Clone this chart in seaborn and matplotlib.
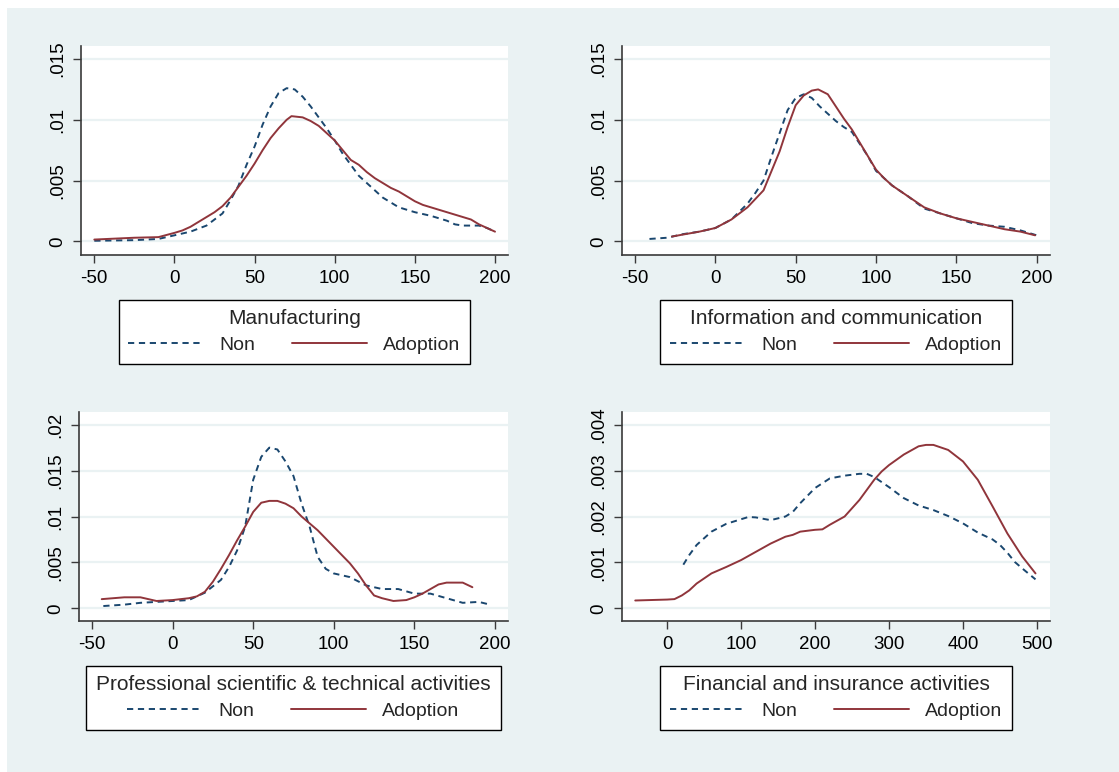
import matplotlib
matplotlib.use("Agg")
import matplotlib.pyplot as plt
import seaborn as sns
import pandas as pd
from matplotlib.patches import Rectangle

sns.set_theme(style="white")
plt.rcParams['font.family'] = ['Liberation Sans', 'DejaVu Sans']

NON_COLOR = "#1A476F"
ADOPT_COLOR = "#90353B"
BG = "#EAF2F3"

# ---------------- data ----------------
titles = ["Manufacturing", "Information and communication",
          "Professional scientific & technical activities",
          "Financial and insurance activities"]
series_labels = ["Non", "Adoption"]

manu_non_x = [-50, -25, -10, 0, 10, 20, 30, 35, 40, 45, 50, 55, 60, 65, 70, 75, 80, 85, 90, 95,
              100, 105, 110, 115, 120, 125, 130, 135, 140, 145, 150, 160, 170, 175, 180, 190, 195, 200]
manu_non_y = [0.00005, 0.0001, 0.0002, 0.0005, 0.0008, 0.0013, 0.0023, 0.0034, 0.0046, 0.0063,
              0.0078, 0.0096, 0.0111, 0.0122, 0.0126, 0.0125, 0.0119, 0.0111, 0.0102, 0.0093,
              0.0083, 0.0072, 0.0063, 0.0054, 0.0048, 0.0042, 0.0036, 0.0032, 0.0028, 0.0026,
              0.0024, 0.0021, 0.0017, 0.0014, 0.0013, 0.0013, 0.0011, 0.0008]
manu_ado_x = [-50, -25, -10, 0, 5, 10, 15, 20, 25, 30, 35, 40, 45, 50, 55, 60, 65, 70, 73, 80,
              85, 90, 95, 100, 105, 110, 115, 120, 125, 130, 135, 140, 145, 150, 155, 160, 165,
              170, 175, 180, 185, 190, 195, 200]
manu_ado_y = [0.00015, 0.0003, 0.00035, 0.0007, 0.0009, 0.0012, 0.0016, 0.0020, 0.0024, 0.0029,
              0.0036, 0.0045, 0.0054, 0.0064, 0.0075, 0.0085, 0.0093, 0.0100, 0.0103, 0.0102,
              0.0099, 0.0095, 0.0089, 0.0083, 0.0075, 0.0067, 0.0063, 0.0057, 0.0052, 0.0048,
              0.0044, 0.0041, 0.0037, 0.0033, 0.0030, 0.0028, 0.0026, 0.0024, 0.0022, 0.0020,
              0.0018, 0.0014, 0.0011, 0.0008]

info_non_x = [-41, -30, -20, -10, 0, 10, 20, 25, 30, 35, 40, 45, 50, 55, 60, 65, 70, 75, 80, 85,
              90, 95, 100, 110, 120, 130, 140, 150, 160, 170, 180, 190, 200]
info_non_y = [0.0002, 0.0003, 0.0006, 0.0008, 0.0011, 0.0018, 0.0031, 0.0040, 0.0050, 0.0070,
              0.0089, 0.0108, 0.0118, 0.0121, 0.0118, 0.0111, 0.0105, 0.0099, 0.0094, 0.0090,
              0.0080, 0.0070, 0.0058, 0.0046, 0.0037, 0.0027, 0.0023, 0.0019, 0.0015, 0.0013,
              0.0012, 0.0009, 0.0005]
info_ado_x = [-27, -10, 0, 10, 20, 30, 35, 40, 45, 50, 55, 60, 64, 70, 75, 80, 85, 90, 95,
              100, 105, 110, 120, 130, 140, 150, 160, 170, 180, 190, 199]
info_ado_y = [0.0004, 0.0008, 0.0011, 0.0018, 0.0028, 0.0042, 0.0058, 0.0074, 0.0094, 0.0112,
              0.0120, 0.0124, 0.0125, 0.0121, 0.0111, 0.0101, 0.0092, 0.0081, 0.0070,
              0.0059, 0.0052, 0.0046, 0.0037, 0.0028, 0.0023, 0.0019, 0.0016, 0.0013, 0.0010,
              0.0008, 0.0005]

prof_non_x = [-43, -30, -20, -10, 0, 10, 20, 30, 35, 40, 45, 50, 55, 60, 65, 70, 75, 80, 85,
              90, 95, 100, 110, 120, 130, 140, 150, 160, 170, 180, 190, 197]
prof_non_y = [0.00025, 0.0004, 0.0006, 0.0007, 0.0008, 0.0009, 0.0017, 0.0031, 0.0045, 0.0063,
              0.0089, 0.0140, 0.0165, 0.0175, 0.0173, 0.0160, 0.0144, 0.0114, 0.0089,
              0.0056, 0.0043, 0.0038, 0.0034, 0.0025, 0.0021, 0.0021, 0.0016, 0.0016, 0.0011,
              0.0006, 0.0007, 0.0004]
prof_ado_x = [-44, -30, -20, -10, 0, 10, 15, 20, 25, 30, 35, 40, 45, 50, 55, 60, 65, 70, 75,
              80, 90, 100, 110, 115, 120, 125, 130, 137, 145, 150, 155, 160, 165, 170, 180, 186]
prof_ado_y = [0.0010, 0.0012, 0.0012, 0.0008, 0.0009, 0.0011, 0.0013, 0.0018, 0.0029, 0.0043,
              0.0058, 0.0074, 0.0089, 0.0105, 0.0115, 0.0117, 0.0117, 0.0114, 0.0109,
              0.0100, 0.0085, 0.0067, 0.0049, 0.0038, 0.0025, 0.0014, 0.0011, 0.0008, 0.0009,
              0.0012, 0.0016, 0.0021, 0.0026, 0.0028, 0.0028, 0.0023]

fin_non_x = [22, 30, 40, 60, 80, 100, 110, 120, 140, 160, 170, 180, 200, 220, 240, 260, 270,
             280, 300, 320, 340, 360, 380, 400, 420, 440, 450, 460, 470, 480, 498]
fin_non_y = [0.00095, 0.00116, 0.00138, 0.00167, 0.00184, 0.00194, 0.00199, 0.00198, 0.00192,
             0.00200, 0.00210, 0.00229, 0.00262, 0.00283, 0.00289, 0.00293, 0.00293,
             0.00286, 0.00264, 0.00240, 0.00224, 0.00214, 0.00201, 0.00185, 0.00165,
             0.00150, 0.00138, 0.00121, 0.00101, 0.00087, 0.00063]
fin_ado_x = [-43, 0, 10, 20, 30, 40, 60, 80, 100, 120, 140, 160, 170, 180, 200, 210, 220, 240,
             260, 280, 290, 300, 320, 340, 350, 360, 380, 400, 420, 440, 460, 480, 498]
fin_ado_y = [0.00017, 0.00019, 0.00020, 0.00028, 0.00039, 0.00054, 0.00076, 0.00090, 0.00105,
             0.00123, 0.00141, 0.00156, 0.00160, 0.00167, 0.00171, 0.00172, 0.00182, 0.00200,
             0.00236, 0.00280, 0.00298, 0.00312, 0.00335, 0.00353, 0.00356, 0.00356,
             0.00345, 0.00320, 0.00280, 0.00222, 0.00163, 0.00113, 0.00076]

yticks_a = [0, 0.005, 0.01, 0.015]
ytick_labels_a = ["0", ".005", ".01", ".015"]
yticks_c = [0, 0.005, 0.01, 0.015, 0.02]
ytick_labels_c = ["0", ".005", ".01", ".015", ".02"]
yticks_d = [0, 0.001, 0.002, 0.003, 0.004]
ytick_labels_d = ["0", ".001", ".002", ".003", ".004"]
xticks_abc = [-50, 0, 50, 100, 150, 200]
xticks_d = [0, 100, 200, 300, 400, 500]

panels = [
    dict(title=titles[0], non=(manu_non_x, manu_non_y), ado=(manu_ado_x, manu_ado_y),
         yt=yticks_a, ytl=ytick_labels_a, xt=xticks_abc,
         xlim=(-58.3, 208.1), ylim=(-0.00112, 0.01607),
         pos=[81, 46, 508, 255]),
    dict(title=titles[1], non=(info_non_x, info_non_y), ado=(info_ado_x, info_ado_y),
         yt=yticks_a, ytl=ytick_labels_a, xt=xticks_abc,
         xlim=(-58.1, 208.3), ylim=(-0.00112, 0.01607),
         pos=[622, 46, 1050, 255]),
    dict(title=titles[2], non=(prof_non_x, prof_non_y), ado=(prof_ado_x, prof_ado_y),
         yt=yticks_c, ytl=ytick_labels_c, xt=xticks_abc,
         xlim=(-58.1, 208.1), ylim=(-0.00138, 0.02138),
         pos=[79, 412, 508, 621]),
    dict(title=titles[3], non=(fin_non_x, fin_non_y), ado=(fin_ado_x, fin_ado_y),
         yt=yticks_d, ytl=ytick_labels_d, xt=xticks_d,
         xlim=(-60.9, 517.6), ylim=(-0.000277, 0.004277),
         pos=[622, 412, 1050, 621]),
]

W, H = 1119, 772
fig = plt.figure(figsize=(W / 100, H / 100), dpi=100, facecolor="white")
fig.add_artist(Rectangle((7 / W, 0), 1, 1 - 8 / H, transform=fig.transFigure,
                         facecolor=BG, edgecolor="none", zorder=-10))

AX_COLOR = "#3a3a3a"
for p in panels:
    l, t, r, b = p["pos"]
    ax = fig.add_axes([l / W, 1 - b / H, (r - l) / W, (b - t) / H])
    ax.set_facecolor("white")
    dfn = pd.DataFrame({"x": p["non"][0], "y": p["non"][1]})
    dfa = pd.DataFrame({"x": p["ado"][0], "y": p["ado"][1]})
    sns.lineplot(data=dfn, x="x", y="y", ax=ax, color=NON_COLOR, lw=1.4,
                 label=series_labels[0], linestyle=(0, (3.2, 2.4)))
    sns.lineplot(data=dfa, x="x", y="y", ax=ax, color=ADOPT_COLOR, lw=1.4,
                 label=series_labels[1])
    ax.set_xlim(*p["xlim"])
    ax.set_ylim(*p["ylim"])
    ax.set_xticks(p["xt"])
    ax.set_xticklabels([str(v) for v in p["xt"]])
    ax.set_yticks(p["yt"])
    ax.set_yticklabels(p["ytl"], rotation=90, va="center")
    ax.set_xlabel("")
    ax.set_ylabel("")
    for s in ["top", "right"]:
        ax.spines[s].set_visible(False)
    for s in ["left", "bottom"]:
        ax.spines[s].set_color(AX_COLOR)
        ax.spines[s].set_linewidth(1.2)
    ax.tick_params(axis="both", which="major", bottom=True, left=True, length=5.5,
                   width=1.0, color=AX_COLOR, labelsize=13.5, labelcolor="black")
    ax.tick_params(axis="x", pad=5)
    ax.tick_params(axis="y", pad=5)
    ax.yaxis.grid(True, color=BG, lw=1.6)
    ax.xaxis.grid(False)
    ax.set_axisbelow(True)
    axh = b - t
    handles, labels = ax.get_legend_handles_labels()
    leg = ax.legend(handles, labels, title=p["title"], ncol=2, loc="upper center",
                    bbox_to_anchor=(0.5, -44.5 / axh), frameon=True, fancybox=False,
                    edgecolor="black", framealpha=1, facecolor="white",
                    fontsize=14, title_fontsize=15, handlelength=3.86,
                    handletextpad=0.82, columnspacing=1.9, borderpad=0.5,
                    labelspacing=0.42, borderaxespad=0)
    leg.get_frame().set_linewidth(1.0)

fig.savefig("out.png", dpi=100, facecolor="white")
